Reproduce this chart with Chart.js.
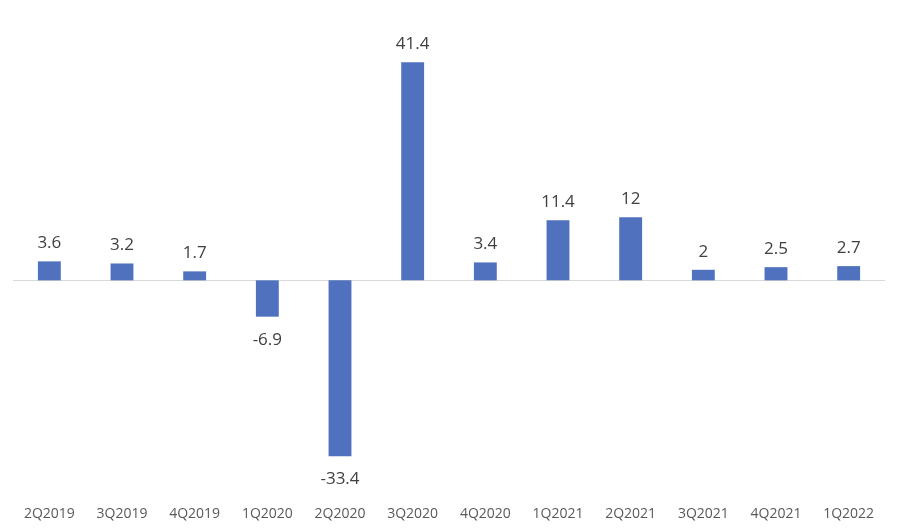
<!DOCTYPE html>
<html>
<head>
<meta charset="utf-8">
<script src="https://cdn.jsdelivr.net/npm/chart.js@4/dist/chart.umd.min.js"></script>
<style>
  html, body { margin: 0; padding: 0; background: #fff; }
  #wrap { width: 902px; height: 530px; }
</style>
</head>
<body>
<div id="wrap"><canvas id="chart" width="902" height="530"></canvas></div>
<script>
const quarters = ["2Q2019", "3Q2019", "4Q2019", "1Q2020", "2Q2020", "3Q2020",
  "4Q2020", "1Q2021", "2Q2021", "3Q2021", "4Q2021", "1Q2022"];
const growth = [3.6, 3.2, 1.7, -6.9, -33.4, 41.4, 3.4, 11.4, 12, 2, 2.5, 2.7];

// zero line + value labels
const barLabels = {
  id: "barLabels",
  beforeDatasetsDraw(chart) {
    const { ctx, chartArea, scales } = chart;
    const y0 = Math.round(scales.y.getPixelForValue(0)) + 0.5;
    ctx.save();
    ctx.strokeStyle = "#d9d9d9";
    ctx.lineWidth = 1;
    ctx.beginPath();
    ctx.moveTo(chartArea.left, y0);
    ctx.lineTo(chartArea.right, y0);
    ctx.stroke();
    ctx.restore();
  },
  afterDatasetsDraw(chart) {
    const { ctx } = chart;
    const meta = chart.getDatasetMeta(0);
    ctx.save();
    ctx.font = "17px 'Open Sans'";
    ctx.fillStyle = "#404040";
    ctx.textAlign = "center";
    ctx.textBaseline = "alphabetic";
    meta.data.forEach((bar, i) => {
      const v = growth[i];
      if (v >= 0) {
        ctx.fillText(String(v), bar.x, bar.y - 13);
      } else {
        ctx.fillText(String(v), bar.x, bar.y + 28);
      }
    });
    ctx.restore();
  }
};

new Chart(document.getElementById("chart"), {
  type: "bar",
  data: {
    labels: quarters,
    datasets: [{
      data: growth,
      backgroundColor: "#4F71BE",
      categoryPercentage: 0.9,
      barPercentage: 0.35
    }]
  },
  options: {
    responsive: false,
    animation: false,
    layout: { padding: { left: 13, right: 17, top: 17, bottom: 0 } },
    plugins: { legend: { display: false }, tooltip: { enabled: false } },
    scales: {
      x: {
        grid: { display: false },
        border: { display: false },
        ticks: {
          color: "#595959",
          font: { family: "'Open Sans'", size: 14 },
          padding: 7,
          maxRotation: 0,
          autoSkip: false
        },
        afterFit(scale) { scale.height = 39; }
      },
      y: {
        display: false,
        min: -40,
        max: 50
      }
    }
  },
  plugins: [barLabels]
});
</script>
</body>
</html>
